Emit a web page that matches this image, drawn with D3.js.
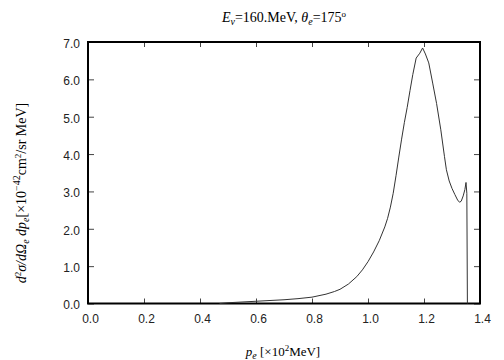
<!DOCTYPE html>
<html><head><meta charset="utf-8">
<script src="https://cdn.jsdelivr.net/npm/d3@7/dist/d3.min.js"></script>
<style>body{margin:0;background:#fff}svg{display:block}</style>
</head><body>
<svg id="c" width="504" height="360"></svg>
<script>
const momentum = [0.47,0.50,0.55,0.60,0.65,0.70,0.75,0.80,0.85,0.88,0.90,0.93,0.96,0.98,1.00,1.02,1.04,1.06,1.07,1.08,1.09,1.10,1.11,1.12,1.13,1.14,1.15,1.16,1.172,1.185,1.195,1.205,1.217,1.231,1.245,1.26,1.273,1.28,1.29,1.30,1.31,1.32,1.327,1.333,1.34,1.346,1.35,1.353,1.355];
const crossSection = [0.0,0.02,0.04,0.06,0.08,0.10,0.13,0.17,0.25,0.32,0.38,0.52,0.72,0.90,1.12,1.38,1.68,2.05,2.28,2.58,2.95,3.42,3.92,4.40,4.85,5.25,5.70,6.13,6.57,6.70,6.84,6.68,6.44,5.90,5.35,4.65,3.94,3.58,3.28,3.08,2.92,2.77,2.71,2.74,2.88,3.05,3.24,2.95,0.0];
const xTicks = [0.0,0.2,0.4,0.6,0.8,1.0,1.2,1.4];
const yTicks = [0,1,2,3,4,5,6,7];

const svg = d3.select("#c");
const L=88, R=480, T=42, B=303.5;
const x = d3.scaleLinear().domain([0,1.4]).range([L,R]);
const y = d3.scaleLinear().domain([0,7]).range([B,T]);
const tickFont = "'Liberation Sans', Arial, sans-serif";

// inward ticks
const gB = svg.append("g").attr("transform",`translate(0,${B})`)
  .call(d3.axisBottom(x).tickValues(xTicks).tickSize(-5).tickPadding(11).tickFormat(d3.format(".1f")));
const gT = svg.append("g").attr("transform",`translate(0,${T})`)
  .call(d3.axisTop(x).tickValues(xTicks).tickSize(-5).tickFormat(""));
const gL = svg.append("g").attr("transform",`translate(${L},0)`)
  .call(d3.axisLeft(y).tickValues(yTicks).tickSize(-6).tickPadding(8).tickFormat(d3.format(".1f")));
const gR = svg.append("g").attr("transform",`translate(${R},0)`)
  .call(d3.axisRight(y).tickValues(yTicks).tickSize(-6).tickFormat(""));
[gB,gT,gL,gR].forEach(g=>{
  g.select(".domain").remove();
  g.selectAll(".tick line").attr("stroke","#444").attr("stroke-width",1);
  g.selectAll("text").attr("font-family",tickFont).attr("font-size",12).attr("fill","#222");
});
gB.selectAll("text").attr("dx",2);
gL.selectAll("text").attr("dy","0.45em");

// frame
svg.append("rect").attr("x",L).attr("y",T).attr("width",R-L).attr("height",B-T)
  .attr("fill","none").attr("stroke","#000").attr("stroke-width",2);

// curve
const line = d3.line().x((d,i)=>x(momentum[i])).y(d=>y(d));
svg.append("path").datum(crossSection).attr("d",line)
  .attr("fill","none").attr("stroke","#333").attr("stroke-width",1);

// title
const serif = "'Liberation Serif','Times New Roman',serif";
const title = svg.append("text").attr("x",284).attr("y",22).attr("text-anchor","middle")
  .attr("font-family",serif).attr("font-size",14);
title.append("tspan").attr("font-style","italic").text("E");
title.append("tspan").attr("font-style","italic").attr("font-size",10).attr("dy",3).text("ν");
title.append("tspan").attr("dy",-3).text("=160.MeV,  ");
title.append("tspan").attr("font-style","italic").text("θ");
title.append("tspan").attr("font-style","italic").attr("font-size",10).attr("dy",3).text("e");
title.append("tspan").attr("dy",-3).text("=175");
title.append("tspan").attr("font-size",9).attr("dy",-5).text("o");

// x label
const xl = svg.append("text").attr("x",283).attr("y",356).attr("text-anchor","middle")
  .attr("font-family",serif).attr("font-size",13);
xl.append("tspan").attr("font-style","italic").text("p");
xl.append("tspan").attr("font-style","italic").attr("font-size",10).attr("dy",3).text("e");
xl.append("tspan").attr("dy",-3).text(" [×10");
xl.append("tspan").attr("font-size",9).attr("dy",-5).text("2");
xl.append("tspan").attr("dy",5).text("MeV]");

// y label
const yl = svg.append("text").attr("transform","translate(26,193) rotate(-90)").attr("text-anchor","middle")
  .attr("font-family",serif).attr("font-size",14);
yl.append("tspan").attr("font-style","italic").text("d");
yl.append("tspan").attr("font-size",9).attr("dy",-5).text("2");
yl.append("tspan").attr("font-style","italic").attr("dy",5).text("σ/dΩ");
yl.append("tspan").attr("font-style","italic").attr("font-size",10).attr("dy",3).text("e");
yl.append("tspan").attr("font-style","italic").attr("dy",-3).text(" dp");
yl.append("tspan").attr("font-style","italic").attr("font-size",10).attr("dy",3).text("e");
yl.append("tspan").attr("dy",-3).text("[×10");
yl.append("tspan").attr("font-size",10).attr("dy",-6).text("−42");
yl.append("tspan").attr("dy",6).text("cm");
yl.append("tspan").attr("font-size",9).attr("dy",-5).text("2");
yl.append("tspan").attr("dy",5).text("/sr MeV]");
</script>
</body></html>
